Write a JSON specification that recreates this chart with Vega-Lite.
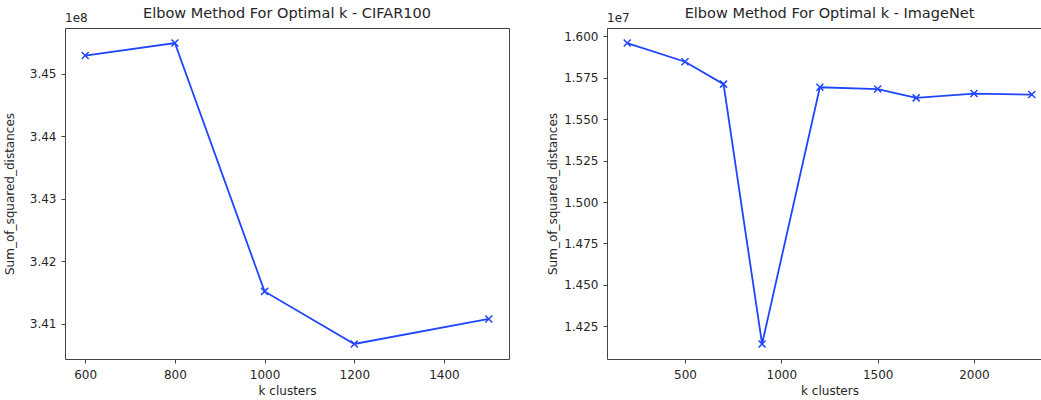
{
  "$schema": "https://vega.github.io/schema/vega-lite/v6.json",
  "padding": {"left": 2, "top": 5, "right": 0, "bottom": 0},
  "background": "white",
  "datasets": {
    "cifar": [
      {"k": 600, "ssd": 345290000},
      {"k": 800, "ssd": 345490000},
      {"k": 1000, "ssd": 341520000},
      {"k": 1200, "ssd": 340680000},
      {"k": 1500, "ssd": 341080000}
    ],
    "imagenet": [
      {"k": 200, "ssd": 15960000},
      {"k": 500, "ssd": 15847000},
      {"k": 700, "ssd": 15712000},
      {"k": 900, "ssd": 14143000},
      {"k": 1200, "ssd": 15693000},
      {"k": 1500, "ssd": 15682000},
      {"k": 1700, "ssd": 15629000},
      {"k": 2000, "ssd": 15655000},
      {"k": 2300, "ssd": 15649000}
    ]
  },
  "spacing": 36,
  "hconcat": [
    {
      "width": 444,
      "height": 331,
      "title": "Elbow Method For Optimal k - CIFAR100",
      "layer": [
        {
          "data": {"name": "cifar"},
          "mark": {"type": "line", "color": "#1f45ff", "strokeWidth": 1.8},
          "encoding": {
            "x": {"field": "k", "type": "quantitative", "title": "k clusters",
                  "scale": {"domain": [555, 1545], "nice": false, "zero": false},
                  "axis": {"values": [600, 800, 1000, 1200, 1400], "format": "d"}},
            "y": {"field": "ssd", "type": "quantitative", "title": "Sum_of_squared_distances",
                  "scale": {"domain": [340439500, 345730500], "nice": false, "zero": false},
                  "axis": {"values": [341000000, 342000000, 343000000, 344000000, 345000000],
                           "labelExpr": "format(datum.value / 1e8, '.2f')", "titlePadding": 13}}
          }
        },
        {
          "data": {"name": "cifar"},
          "mark": {"type": "point", "shape": "M-1,-1L1,1M1,-1L-1,1", "size": 49, "filled": false, "color": "#1f45ff", "strokeWidth": 1.5, "opacity": 1},
          "encoding": {
            "x": {"field": "k", "type": "quantitative"},
            "y": {"field": "ssd", "type": "quantitative"}
          }
        },
        {
          "data": {"values": [{}]},
          "mark": {"type": "text", "text": "1e8", "align": "left", "baseline": "bottom", "dy": -3, "fontSize": 12, "color": "#262626"},
          "encoding": {
            "x": {"datum": 555, "type": "quantitative"},
            "y": {"datum": 345730500, "type": "quantitative"}
          }
        }
      ]
    },
    {
      "width": 445,
      "height": 331,
      "title": "Elbow Method For Optimal k - ImageNet",
      "layer": [
        {
          "data": {"name": "imagenet"},
          "mark": {"type": "line", "color": "#1f45ff", "strokeWidth": 1.8},
          "encoding": {
            "x": {"field": "k", "type": "quantitative", "title": "k clusters",
                  "scale": {"domain": [95, 2405], "nice": false, "zero": false},
                  "axis": {"values": [500, 1000, 1500, 2000], "format": "d"}},
            "y": {"field": "ssd", "type": "quantitative", "title": "Sum_of_squared_distances",
                  "scale": {"domain": [14052150, 16050850], "nice": false, "zero": false},
                  "axis": {"values": [14250000, 14500000, 14750000, 15000000, 15250000, 15500000, 15750000, 16000000],
                           "labelExpr": "format(datum.value / 1e7, '.3f')", "titlePadding": 4}}
          }
        },
        {
          "data": {"name": "imagenet"},
          "mark": {"type": "point", "shape": "M-1,-1L1,1M1,-1L-1,1", "size": 49, "filled": false, "color": "#1f45ff", "strokeWidth": 1.5, "opacity": 1},
          "encoding": {
            "x": {"field": "k", "type": "quantitative"},
            "y": {"field": "ssd", "type": "quantitative"}
          }
        },
        {
          "data": {"values": [{}]},
          "mark": {"type": "text", "text": "1e7", "align": "left", "baseline": "bottom", "dy": -3, "fontSize": 12, "color": "#262626"},
          "encoding": {
            "x": {"datum": 95, "type": "quantitative"},
            "y": {"datum": 16050850, "type": "quantitative"}
          }
        }
      ]
    }
  ],
  "config": {
    "font": "DejaVu Sans",
    "view": {"stroke": "#444", "strokeWidth": 1},
    "title": {"fontSize": 14.5, "fontWeight": "normal", "color": "#262626", "offset": -9, "font": "DejaVu Sans"},
    "axis": {
      "grid": false,
      "domain": false,
      "tickColor": "#444",
      "tickSize": 4,
      "tickWidth": 1,
      "labelFont": "DejaVu Sans",
      "titleFont": "DejaVu Sans",
      "labelFontSize": 12,
      "titleFontSize": 12,
      "titleFontWeight": "normal",
      "labelColor": "#262626",
      "titleColor": "#262626",
      "labelPadding": 5
    },
    "axisX": {"titlePadding": 5, "labelFlush": false, "labelPadding": 6},
    "axisY": {"labelFlush": false}
  }
}
